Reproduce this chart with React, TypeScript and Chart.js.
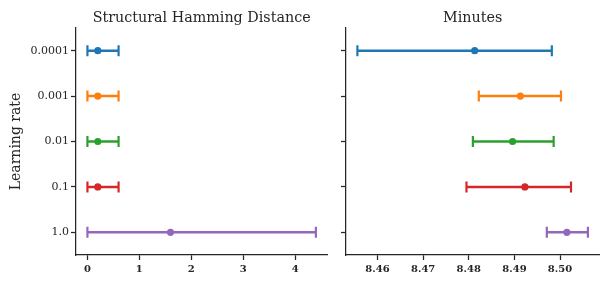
import React, { useEffect, useRef } from "react";
import { Chart, registerables } from "chart.js";

Chart.register(...registerables);

const LR_LABELS = ["0.0001", "0.001", "0.01", "0.1", "1.0"];
const COLORS = ["#1f77b4", "#ff7f0e", "#2ca02c", "#d62728", "#9467bd"];

const SHD_MEAN = [0.2, 0.2, 0.2, 0.2, 1.6];
const SHD_LOW = [0, 0, 0, 0, 0];
const SHD_HIGH = [0.6, 0.6, 0.6, 0.6, 4.4];
const SHD_TICKS = [0, 1, 2, 3, 4];

const MIN_MEAN = [8.4813, 8.4913, 8.4896, 8.4923, 8.5015];
const MIN_LOW = [8.4556, 8.4822, 8.4809, 8.4795, 8.4971];
const MIN_HIGH = [8.4982, 8.5002, 8.4986, 8.5024, 8.5061];
const MIN_TICKS = [8.46, 8.47, 8.48, 8.49, 8.5];

const FONT = "'DejaVu Serif', serif";
const INK = "#262626";

function buildDatasets(mean: number[], low: number[], high: number[]) {
  const ds: any[] = [];
  LR_LABELS.forEach((lab, i) => {
    ds.push({
      data: [
        { x: low[i], y: lab },
        { x: high[i], y: lab },
      ],
      showLine: true,
      borderColor: COLORS[i],
      backgroundColor: COLORS[i],
      borderWidth: 2.5,
      pointStyle: "line",
      rotation: 90,
      pointRadius: 5.5,
      pointBorderWidth: 2.2,
      pointBorderColor: COLORS[i],
      order: 1,
    });
    ds.push({
      data: [{ x: mean[i], y: lab }],
      showLine: false,
      pointStyle: "circle",
      pointRadius: 3.6,
      pointBackgroundColor: COLORS[i],
      pointBorderWidth: 0,
      borderColor: COLORS[i],
      backgroundColor: COLORS[i],
      order: 0,
    });
  });
  return ds;
}

function makeConfig(opts: {
  title: string;
  mean: number[];
  low: number[];
  high: number[];
  ticks: number[];
  min: number;
  max: number;
  decimals: number;
  yWidth: number;
  yTitle: boolean;
  yLabels: boolean;
  padRight: number;
}): any {
  return {
    type: "scatter",
    data: { datasets: buildDatasets(opts.mean, opts.low, opts.high) },
    options: {
      animation: false,
      responsive: false,
      events: [],
      layout: { padding: { top: 0, left: 0, bottom: 0, right: opts.padRight } },
      plugins: {
        legend: { display: false },
        tooltip: { enabled: false },
        title: {
          display: true,
          fullSize: false,
          text: opts.title,
          color: INK,
          font: { family: FONT, size: 14.3, weight: "normal", lineHeight: 1.2 },
          padding: { top: 9.6, bottom: 1.24 },
        },
      },
      scales: {
        x: {
          type: "linear",
          min: opts.min,
          max: opts.max,
          afterBuildTicks: (s: any) => {
            s.ticks = opts.ticks.map((v) => ({ value: v }));
          },
          afterFit: (s: any) => {
            s.height = 30;
          },
          grid: {
            drawOnChartArea: false,
            drawTicks: true,
            tickLength: 5,
            tickWidth: 1.25,
            tickColor: INK,
            color: INK,
          },
          border: { display: true, color: INK, width: 1.25 },
          ticks: {
            color: INK,
            padding: 3,
            maxRotation: 0,
            font: { family: FONT, size: 10, weight: "bold" },
            callback: (v: any) => Number(v).toFixed(opts.decimals),
          },
        },
        y: {
          type: "category",
          labels: LR_LABELS,
          offset: true,
          afterFit: (s: any) => {
            s.width = opts.yWidth;
          },
          grid: {
            offset: false,
            drawOnChartArea: false,
            drawTicks: true,
            tickLength: 5,
            tickWidth: 1.25,
            tickColor: INK,
            color: INK,
          },
          border: { display: true, color: INK, width: 1.25 },
          ticks: {
            display: opts.yLabels,
            color: INK,
            padding: 2,
            font: { family: FONT, size: 11 },
          },
          title: {
            display: opts.yTitle,
            text: "Learning rate",
            color: INK,
            font: { family: FONT, size: 14, lineHeight: 1.2 },
            padding: { top: 8.3, bottom: 0 },
          },
        },
      },
    },
  };
}

function Panel(props: { left: number; width: number; config: any }) {
  const ref = useRef<HTMLCanvasElement | null>(null);
  useEffect(() => {
    if (!ref.current) return;
    const chart = new Chart(ref.current, props.config);
    return () => chart.destroy();
  }, []);
  return (
    <canvas
      ref={ref}
      width={props.width}
      height={285}
      style={{ position: "absolute", left: props.left, top: 0, width: props.width, height: 285 }}
    />
  );
}

export default function App() {
  const leftCfg = makeConfig({
    title: "Structural Hamming Distance",
    mean: SHD_MEAN,
    low: SHD_LOW,
    high: SHD_HIGH,
    ticks: SHD_TICKS,
    min: -0.22,
    max: 4.62,
    decimals: 0,
    yWidth: 76,
    yTitle: true,
    yLabels: true,
    padRight: 6,
  });
  const rightCfg = makeConfig({
    title: "Minutes",
    mean: MIN_MEAN,
    low: MIN_LOW,
    high: MIN_HIGH,
    ticks: MIN_TICKS,
    min: 8.4531,
    max: 8.5086,
    decimals: 2,
    yWidth: 11,
    yTitle: false,
    yLabels: false,
    padRight: 9.7,
  });
  return (
    <div style={{ position: "absolute", left: 0, top: 0, width: 609, height: 285, background: "#fff" }}>
      <Panel left={0} width={335} config={leftCfg} />
      <Panel left={335} width={274} config={rightCfg} />
    </div>
  );
}
